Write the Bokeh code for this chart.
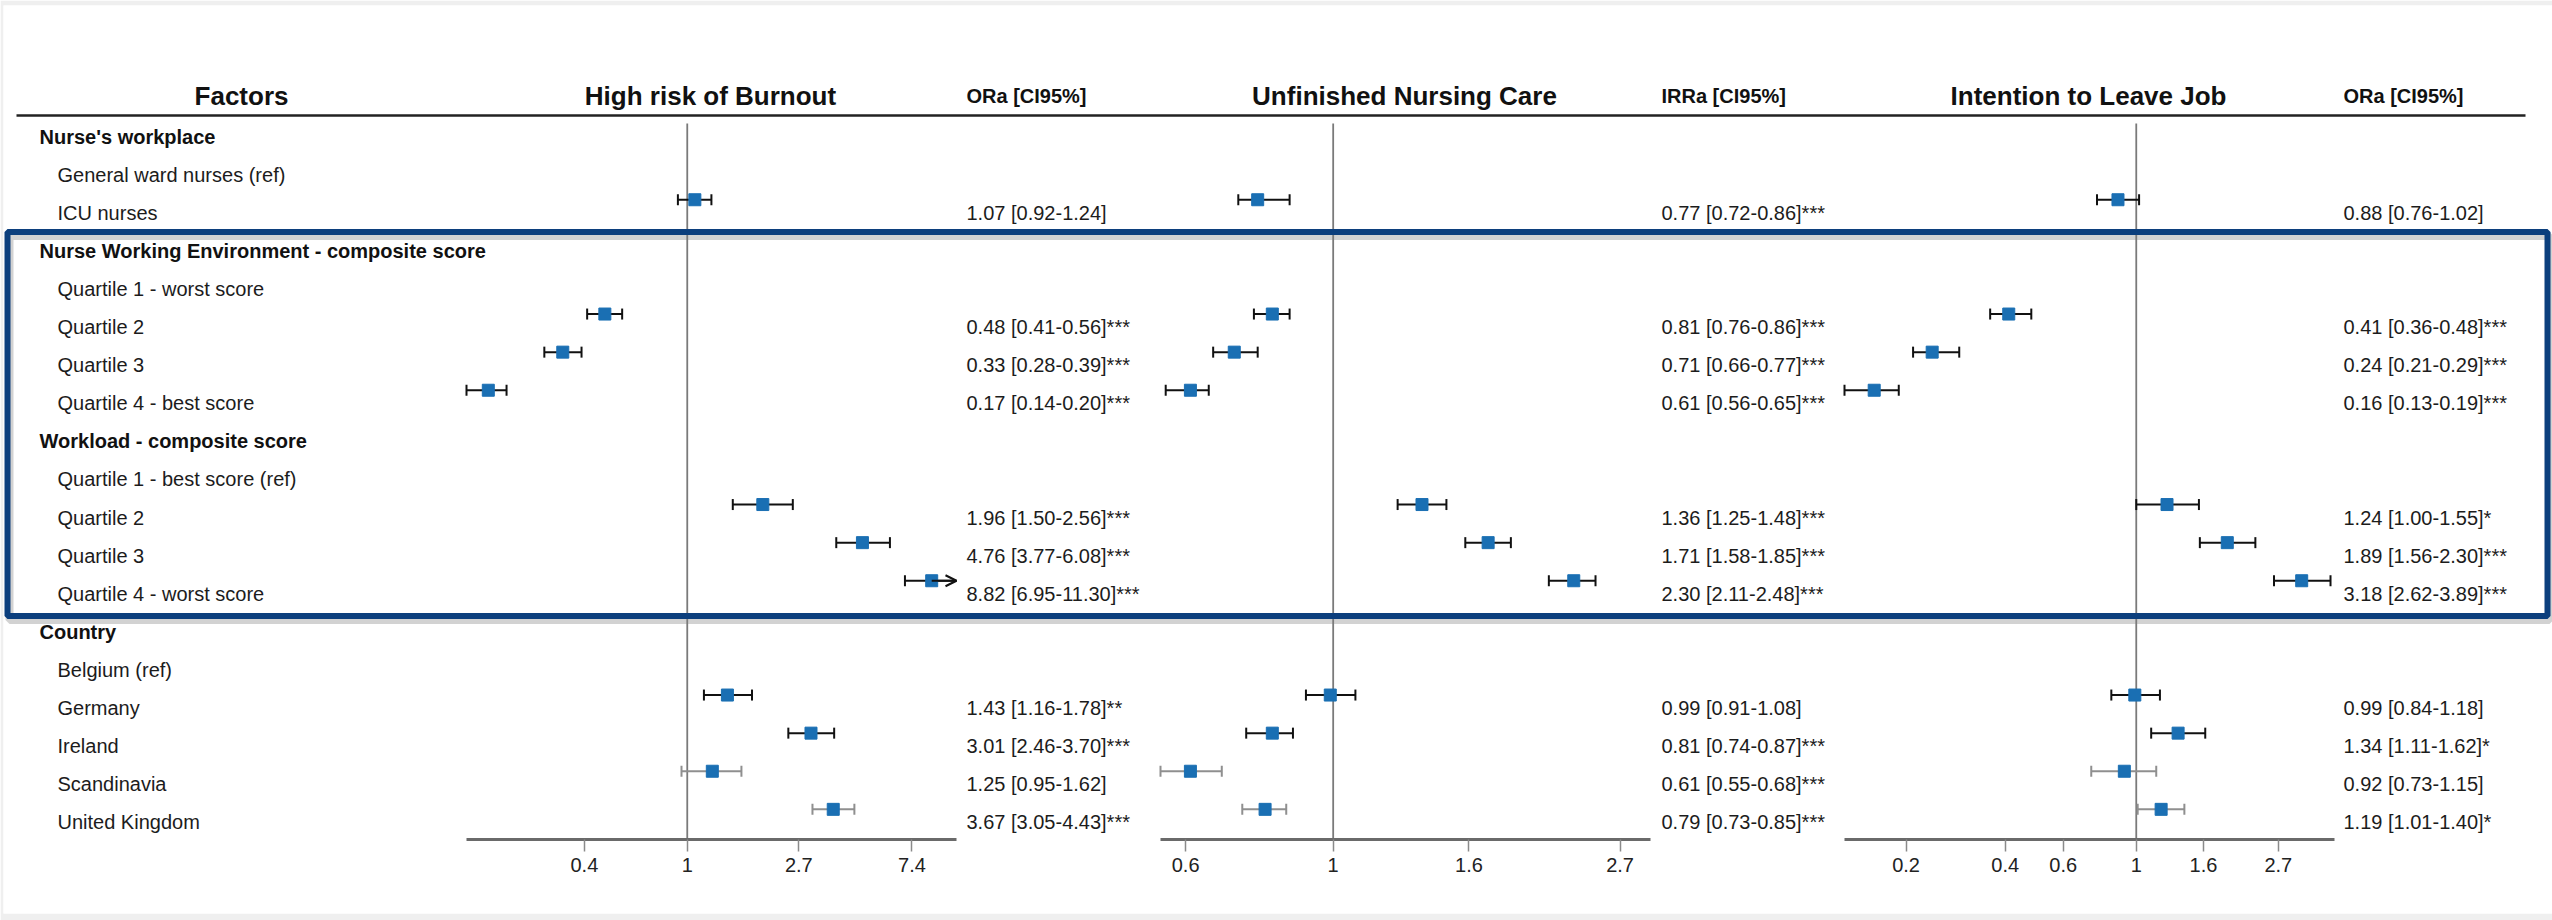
import math

from bokeh.core.properties import value
from bokeh.embed import file_html
from bokeh.models import (Arrow, ColumnDataSource, CustomJSTickFormatter, FixedTicker,
                          LogAxis, LogScale, OpenHead, Range1d)
from bokeh.plotting import figure
from bokeh.resources import INLINE

# ---------------------------------------------------------------- data
row_labels = [
    "Nurse's workplace",
    "General ward nurses (ref)",
    "ICU nurses",
    "Nurse Working Environment - composite score",
    "Quartile 1 - worst score",
    "Quartile 2",
    "Quartile 3",
    "Quartile 4 - best score",
    "Workload - composite score",
    "Quartile 1 - best score (ref)",
    "Quartile 2",
    "Quartile 3",
    "Quartile 4 - worst score",
    "Country",
    "Belgium (ref)",
    "Germany",
    "Ireland",
    "Scandinavia",
    "United Kingdom",
]
group_rows = [0, 3, 8, 13]
estimate_rows = [2, 5, 6, 7, 10, 11, 12, 15, 16, 17, 18]
muted_rows = [17, 18]

burnout_est = [1.07, 0.48, 0.33, 0.17, 1.96, 4.76, 8.82, 1.43, 3.01, 1.25, 3.67]
burnout_lo = [0.92, 0.41, 0.28, 0.14, 1.50, 3.77, 6.95, 1.16, 2.46, 0.95, 3.05]
burnout_hi = [1.24, 0.56, 0.39, 0.20, 2.56, 6.08, 11.30, 1.78, 3.70, 1.62, 4.43]
burnout_sig = ["", "***", "***", "***", "***", "***", "***", "**", "***", "", "***"]

unfinished_est = [0.77, 0.81, 0.71, 0.61, 1.36, 1.71, 2.30, 0.99, 0.81, 0.61, 0.79]
unfinished_lo = [0.72, 0.76, 0.66, 0.56, 1.25, 1.58, 2.11, 0.91, 0.74, 0.55, 0.73]
unfinished_hi = [0.86, 0.86, 0.77, 0.65, 1.48, 1.85, 2.48, 1.08, 0.87, 0.68, 0.85]
unfinished_sig = ["***", "***", "***", "***", "***", "***", "***", "", "***", "***", "***"]

leave_est = [0.88, 0.41, 0.24, 0.16, 1.24, 1.89, 3.18, 0.99, 1.34, 0.92, 1.19]
leave_lo = [0.76, 0.36, 0.21, 0.13, 1.00, 1.56, 2.62, 0.84, 1.11, 0.73, 1.01]
leave_hi = [1.02, 0.48, 0.29, 0.19, 1.55, 2.30, 3.89, 1.18, 1.62, 1.15, 1.40]
leave_sig = ["", "***", "***", "***", "*", "***", "***", "", "*", "", "*"]

burnout_ticks = [0.4, 1, 2.7, 7.4]
unfinished_ticks = [0.6, 1, 1.6, 2.7]
leave_ticks = [0.2, 0.4, 0.6, 1, 1.6, 2.7]

# ---------------------------------------------------------------- layout
W, H = 2552, 920
PAD_L, PAD_R, PAD_T, PAD_B = 3, 0, 5, 7
X0, X1 = PAD_L, W - PAD_R                 # frame extent in page pixels
ROW0_PX, ROW_PX = 136.0, 38.1             # first row centre and row pitch


def row_at(py):
    return (py - ROW0_PX) / ROW_PX


HEAD_ROW = row_at(95)
RULE_ROW = row_at(115)
REF_TOP_ROW = row_at(123)
AXIS_ROW = row_at(839)
MARK_SHIFT = 0.34
BOX_TOP, BOX_BOTTOM = row_at(231.5), row_at(615.5)

FONT = value("Liberation Sans")
BLUE = "#1a6fb3"
BOX_BLUE = "#0c3f7d"
INK = "#111111"
MUTED = "#8f8f8f"

panels = [
    dict(name="burnout", title="High risk of Burnout", title_x=710,
         col_head="ORa [CI95%]", col_x=966, px=(466, 956), bounds=(0.14, 11.0),
         est=burnout_est, lo=burnout_lo, hi=burnout_hi, sig=burnout_sig, ticks=burnout_ticks),
    dict(name="unfinished", title="Unfinished Nursing Care", title_x=1404,
         col_head="IRRa [CI95%]", col_x=1661, px=(1160, 1650), bounds=(0.55, 3.0),
         est=unfinished_est, lo=unfinished_lo, hi=unfinished_hi, sig=unfinished_sig,
         ticks=unfinished_ticks),
    dict(name="leave", title="Intention to Leave Job", title_x=2088,
         col_head="ORa [CI95%]", col_x=2343, px=(1844, 2334), bounds=(0.13, 4.0),
         est=leave_est, lo=leave_lo, hi=leave_hi, sig=leave_sig, ticks=leave_ticks),
]

p = figure(
    width=W, height=H,
    x_range=Range1d(X0, X1),
    y_range=Range1d(row_at(H - PAD_B), row_at(PAD_T)),
    x_axis_location=None, y_axis_location=None,
    output_backend="svg", toolbar_location=None, title=None,
    min_border_left=PAD_L, min_border_right=PAD_R,
    min_border_top=PAD_T, min_border_bottom=PAD_B,
    border_fill_color="#efefef", background_fill_color="white",
    outline_line_color=None,
)
p.grid.visible = False

# each panel gets its own log scale, stretched so that its axis bounds
# land on the panel's horizontal extent
extra_ranges, extra_scales = {}, {}
for pan in panels:
    lo_b, hi_b = pan["bounds"]
    px_l, px_r = pan["px"]
    s = (px_r - px_l) / math.log(hi_b / lo_b)
    extra_ranges[pan["name"]] = Range1d(lo_b * math.exp((X0 - px_l) / s),
                                        hi_b * math.exp((X1 - px_r) / s))
    extra_scales[pan["name"]] = LogScale()
p.extra_x_ranges = extra_ranges
p.extra_x_scales = extra_scales

# ---------------------------------------------------------------- header
p.text(x=[241], y=[HEAD_ROW], text=["Factors"], text_font=FONT, text_font_size="26px",
       text_font_style="bold", text_align="center", text_baseline="middle", text_color=INK)
for pan in panels:
    p.text(x=[pan["title_x"]], y=[HEAD_ROW], text=[pan["title"]], text_font=FONT,
           text_font_size="26px", text_font_style="bold", text_align="center",
           text_baseline="middle", text_color=INK)
    p.text(x=[pan["col_x"]], y=[HEAD_ROW], text=[pan["col_head"]], text_font=FONT,
           text_font_size="20px", text_font_style="bold", text_align="left",
           text_baseline="middle", text_color=INK)
p.segment(x0=[16], x1=[2525], y0=[RULE_ROW], y1=[RULE_ROW], line_color="#222222",
          line_width=2.5)

# ---------------------------------------------------------------- row labels
item_rows = [i for i in range(len(row_labels)) if i not in group_rows]
p.text(x=39, y=group_rows, text=[row_labels[i] for i in group_rows], text_font=FONT,
       text_font_size="20px", text_font_style="bold", text_align="left",
       text_baseline="middle", text_color=INK)
p.text(x=57, y=item_rows, text=[row_labels[i] for i in item_rows], text_font=FONT,
       text_font_size="20px", text_align="left", text_baseline="middle",
       text_color="#1c1c1c")

# ---------------------------------------------------------------- panels
for pan in panels:
    name = pan["name"]
    lo_b, hi_b = pan["bounds"]
    est, lo, hi = pan["est"], pan["lo"], pan["hi"]
    ys = [r - MARK_SHIFT for r in estimate_rows]
    colors = [MUTED if r in muted_rows else INK for r in estimate_rows]
    hi_draw = [min(h, hi_b) for h in hi]
    src = ColumnDataSource(dict(est=est, lo=lo, hi=hi_draw, y=ys, color=colors))

    # reference line at 1
    p.segment(x0=[1], x1=[1], y0=[REF_TOP_ROW], y1=[AXIS_ROW], x_range_name=name,
              line_color="#7a7a7a", line_width=1.8)

    # confidence intervals
    p.segment(x0="lo", x1="hi", y0="y", y1="y", source=src, x_range_name=name,
              line_color="color", line_width=2)
    p.scatter(x="lo", y="y", source=src, x_range_name=name, marker="dash",
              angle=math.pi / 2, size=11, line_color="color", line_width=2)
    keep = [i for i, h in enumerate(hi) if h <= hi_b]
    cut = [i for i, h in enumerate(hi) if h > hi_b]
    if keep:
        p.scatter(x=[hi[i] for i in keep], y=[ys[i] for i in keep],
                  line_color=[colors[i] for i in keep], x_range_name=name,
                  marker="dash", angle=math.pi / 2, size=11, line_width=2)
    if cut:
        cut_src = ColumnDataSource(dict(x0=[est[i] for i in cut], x1=[hi_draw[i] for i in cut],
                                        y=[ys[i] for i in cut]))
        p.add_layout(Arrow(x_start="x0", y_start="y", x_end="x1", y_end="y", source=cut_src,
                           x_range_name=name, line_color=INK, line_width=2,
                           end=OpenHead(size=11, line_color=INK, line_width=2)))

    # point estimates
    p.scatter(x="est", y="y", source=src, x_range_name=name, marker="square", size=12,
              fill_color=BLUE, line_color=BLUE)

    # estimate column
    labels = [f"{e:.2f} [{l:.2f}-{h:.2f}]{s}" for e, l, h, s in zip(est, lo, hi, pan["sig"])]
    p.text(x=pan["col_x"], y=estimate_rows, text=labels, text_font=FONT,
           text_font_size="20px", text_align="left", text_baseline="middle",
           text_color="#1c1c1c")

    # log axis under the panel
    ax = LogAxis(x_range_name=name, fixed_location=AXIS_ROW, bounds=(lo_b, hi_b),
                 ticker=FixedTicker(ticks=pan["ticks"], minor_ticks=[]),
                 formatter=CustomJSTickFormatter(code="return tick.toString()"))
    ax.axis_line_color = "#6a6a6a"
    ax.axis_line_width = 3
    ax.major_tick_line_color = "#8a8a8a"
    ax.major_tick_line_width = 1.5
    ax.major_tick_in = 0
    ax.major_tick_out = 12
    ax.minor_tick_line_color = None
    ax.major_label_standoff = 6
    ax.major_label_text_font = "Liberation Sans"
    ax.major_label_text_font_size = "20px"
    ax.major_label_text_color = "#222222"
    p.add_layout(ax, "below")

# ---------------------------------------------------------------- highlight box
shift_y = 4 / ROW_PX
p.quad(left=[9], right=[2549], top=[BOX_TOP + shift_y], bottom=[BOX_BOTTOM + shift_y],
       fill_alpha=0, line_color="#7d7d7d", line_alpha=0.35, line_width=8)
p.quad(left=[7], right=[2547], top=[BOX_TOP], bottom=[BOX_BOTTOM], fill_alpha=0,
       line_color=BOX_BLUE, line_width=6)

open("out.html", "w").write(file_html(p, INLINE))
